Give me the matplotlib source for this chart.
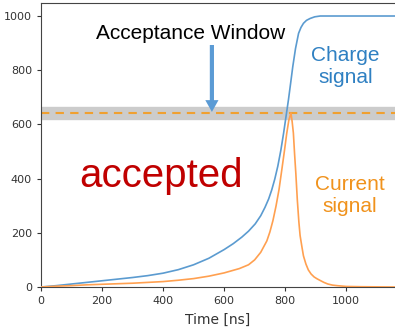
import matplotlib
matplotlib.use("Agg")
import matplotlib.pyplot as plt

# charge signal (integrated)
charge_t = [0, 50, 100, 150, 200, 250, 300, 350, 400, 450, 500, 550, 600, 630, 658,
            680, 702, 720, 734, 746, 756, 766, 776, 786, 795, 803, 811, 818, 825, 834,
            844, 852, 860, 870, 882, 897, 915, 1000, 1160]
charge_v = [0, 5, 11, 17, 23, 29, 35, 42, 51, 64, 82, 106, 138, 160, 184,
            206, 233, 263, 294, 325, 358, 398, 446, 505, 568, 630, 692, 752, 813, 880,
            936, 958, 973, 984, 991, 997, 1000, 1000, 1000]

# current signal
current_t = [0, 50, 100, 150, 200, 250, 300, 350, 400, 450, 500, 550, 600, 650, 680,
             700, 720, 740, 750, 760, 770, 780, 790, 798, 805, 812, 819,
             823, 827, 831, 835, 840, 845, 849, 855, 860, 868, 876, 885, 895, 905,
             915, 927, 940, 955, 970, 1000, 1050, 1160]
current_v = [0, 3, 5, 8, 10, 12, 14, 17, 20, 25, 31, 40, 52, 68, 82,
             100, 128, 170, 203, 245, 298, 360, 440, 505, 565, 615, 642,
             610, 568, 490, 420, 320, 240, 190, 148, 115, 85, 63, 48, 37, 30,
             24, 17, 11, 7, 5, 2, 1, 0]

threshold = 642
window = (620, 665)

fig = plt.figure(figsize=(3.95, 3.3), dpi=100)
ax = fig.add_axes([41 / 395, 1 - 287 / 330, 1 - 41 / 395, 284 / 330])

ax.axhspan(window[0], window[1], color="#cccccc", zorder=1)
ax.axhline(threshold, color="#f0a030", ls="--", lw=1.5, dashes=(4, 3), zorder=2)
ax.plot(charge_t, charge_v, color="#5b9bd0", lw=1.2, zorder=3)
ax.plot(current_t, current_v, color="#ffa050", lw=1.2, zorder=3)

ax.annotate("", xy=(560, threshold + 4), xytext=(560, 893),
            arrowprops=dict(color="#5b9bd5", width=3, headwidth=9.5, headlength=8.5, lw=0))

tfont = ["Liberation Sans", "DejaVu Sans"]
ax.text(489, 937, "Acceptance Window", ha="center", va="center", fontsize=15, family=tfont, color="black")
ax.text(997, 815, "Charge\nsignal", ha="center", va="center", fontsize=15, family=tfont,
        color="#2f80c2", linespacing=1.2)
ax.text(1013, 337, "Current\nsignal", ha="center", va="center", fontsize=15, family=tfont,
        color="#f0921c", linespacing=1.2)
ax.text(393, 410, "accepted", ha="center", va="center", fontsize=29, family=tfont, color="#c00000")

ax.set_xlim(0, 1160)
ax.set_ylim(0, 1048)
ax.set_xticks([0, 200, 400, 600, 800, 1000])
ax.set_yticks([0, 200, 400, 600, 800, 1000])
ax.tick_params(labelsize=8, colors="#333333", length=3)
ax.spines["right"].set_visible(False)
for s in ["left", "bottom", "top"]:
    ax.spines[s].set_color("#444444")
ax.set_xlabel("Time [ns]", fontsize=10, color="#333333", labelpad=5)

fig.savefig("out.png", dpi=100)
